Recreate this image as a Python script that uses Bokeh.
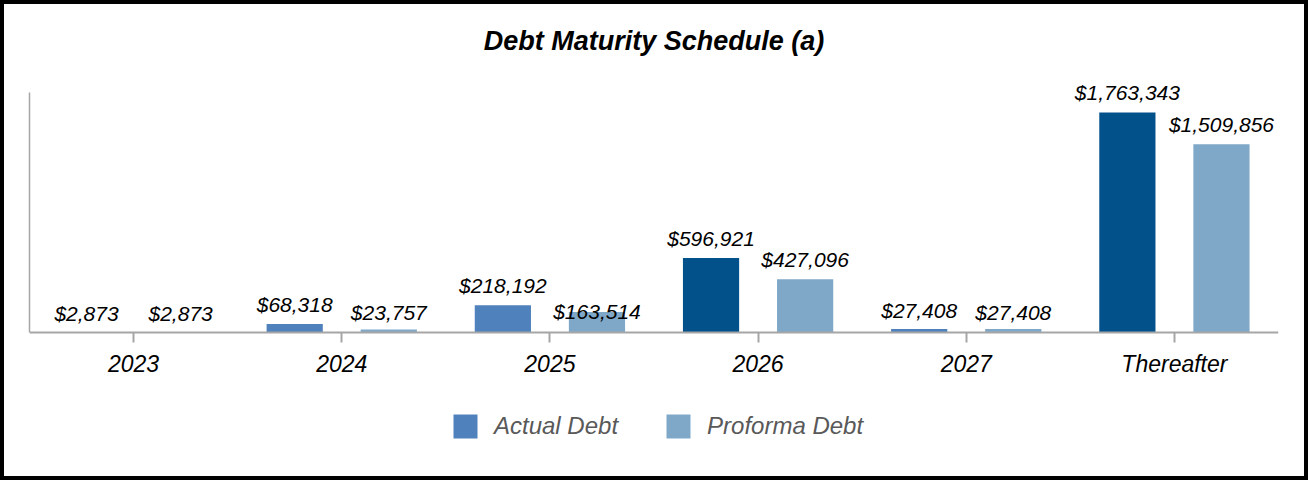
from bokeh.plotting import figure
from bokeh.models import FactorRange, Range1d, Legend, LegendItem, ColumnDataSource
from bokeh.transform import dodge
from bokeh.core.properties import value
from bokeh.embed import file_html
from bokeh.resources import INLINE

# data
years = ["2023", "2024", "2025", "2026", "2027", "Thereafter"]
actual = [2873, 68318, 218192, 596921, 27408, 1763343]
proforma = [2873, 23757, 163514, 427096, 27408, 1509856]

# the actual bars are not all the same shade in the original
actual_colors = ["#4F81BD", "#4F81BD", "#4F81BD", "#03518A", "#4F81BD", "#03518A"]
proforma_color = "#7FA8C8"
# label offsets in px (the 2025 proforma label sits lower in the original)
actual_lab_off = [-19, -19, -20, -20, -19, -20]
proforma_lab_off = [-19, -17, -1, -20, -17, -20]

FONT = "Liberation Sans"
GREY = "#A6A6A6"

src = ColumnDataSource(data=dict(
    year=years,
    actual=actual,
    proforma=proforma,
    acolor=actual_colors,
    alabel=["${:,}".format(v) for v in actual],
    plabel=["${:,}".format(v) for v in proforma],
    aoff=actual_lab_off,
    poff=proforma_lab_off,
))

# the frame runs down to the bottom so the legend under the axis is not clipped;
# the x axis is pinned at y=0 and the y axis line is cut with bounds
y_top = 1923600
p = figure(x_range=FactorRange(factors=years, range_padding=0),
           y_range=Range1d(-1106000, 2068000),
           width=1308, height=480,
           output_backend="svg", toolbar_location=None,
           min_border_left=25, min_border_right=34,
           min_border_top=70, min_border_bottom=14)
p.styles = {"border": "4px solid black", "box-sizing": "border-box"}

p.title.text = "Debt Maturity Schedule (a)"
p.title.align = "center"
p.title.text_font = FONT
p.title.text_font_size = "27px"
p.title.text_font_style = "bold italic"
p.title.text_color = "black"
p.title.standoff = 38

p.outline_line_color = None
p.xgrid.grid_line_color = None
p.ygrid.grid_line_color = None

# bars
w = 0.27
off = 0.226
r1 = p.vbar(x=dodge("year", -off, range=p.x_range), top="actual", width=w,
            source=src, fill_color="acolor", line_color=None)
r2 = p.vbar(x=dodge("year", off, range=p.x_range), top="proforma", width=w,
            source=src, fill_color=proforma_color, line_color=None)

# value labels
for col, lab, yo, dx in [("actual", "alabel", "aoff", -off),
                         ("proforma", "plabel", "poff", off)]:
    p.text(x=dodge("year", dx, range=p.x_range), y=col, text=lab, source=src,
           text_align="center", text_baseline="alphabetic", y_offset=yo,
           text_font=value(FONT), text_font_style="italic",
           text_font_size="21px", text_color="black")

# axes
xa = p.xaxis[0]
xa.fixed_location = 0
xa.axis_line_color = GREY
xa.axis_line_width = 2
xa.major_tick_line_color = GREY
xa.major_tick_line_width = 2
xa.major_tick_out = 10
xa.major_tick_in = 0
xa.major_label_standoff = 8
xa.major_label_text_font = FONT
xa.major_label_text_font_style = "italic"
xa.major_label_text_font_size = "23px"
xa.major_label_text_color = "black"

ya = p.yaxis[0]
ya.bounds = (0, y_top)
ya.axis_line_color = GREY
ya.axis_line_width = 1.5
ya.major_tick_line_color = None
ya.minor_tick_line_color = None
ya.major_label_text_alpha = 0
ya.major_label_text_font_size = "1px"

legend = Legend(items=[
    LegendItem(label="Actual Debt", renderers=[r1], index=0),
    LegendItem(label="Proforma Debt", renderers=[r2], index=0),
], orientation="horizontal", location=(421, 29),
    glyph_width=30, glyph_height=30, label_standoff=14, spacing=45,
    label_text_font=FONT, label_text_font_style="italic",
    label_text_font_size="24px", label_text_color="#595959",
    border_line_color=None, background_fill_alpha=0,
    padding=0, margin=0)
p.add_layout(legend)

open("out.html", "w").write(file_html(p, INLINE))
